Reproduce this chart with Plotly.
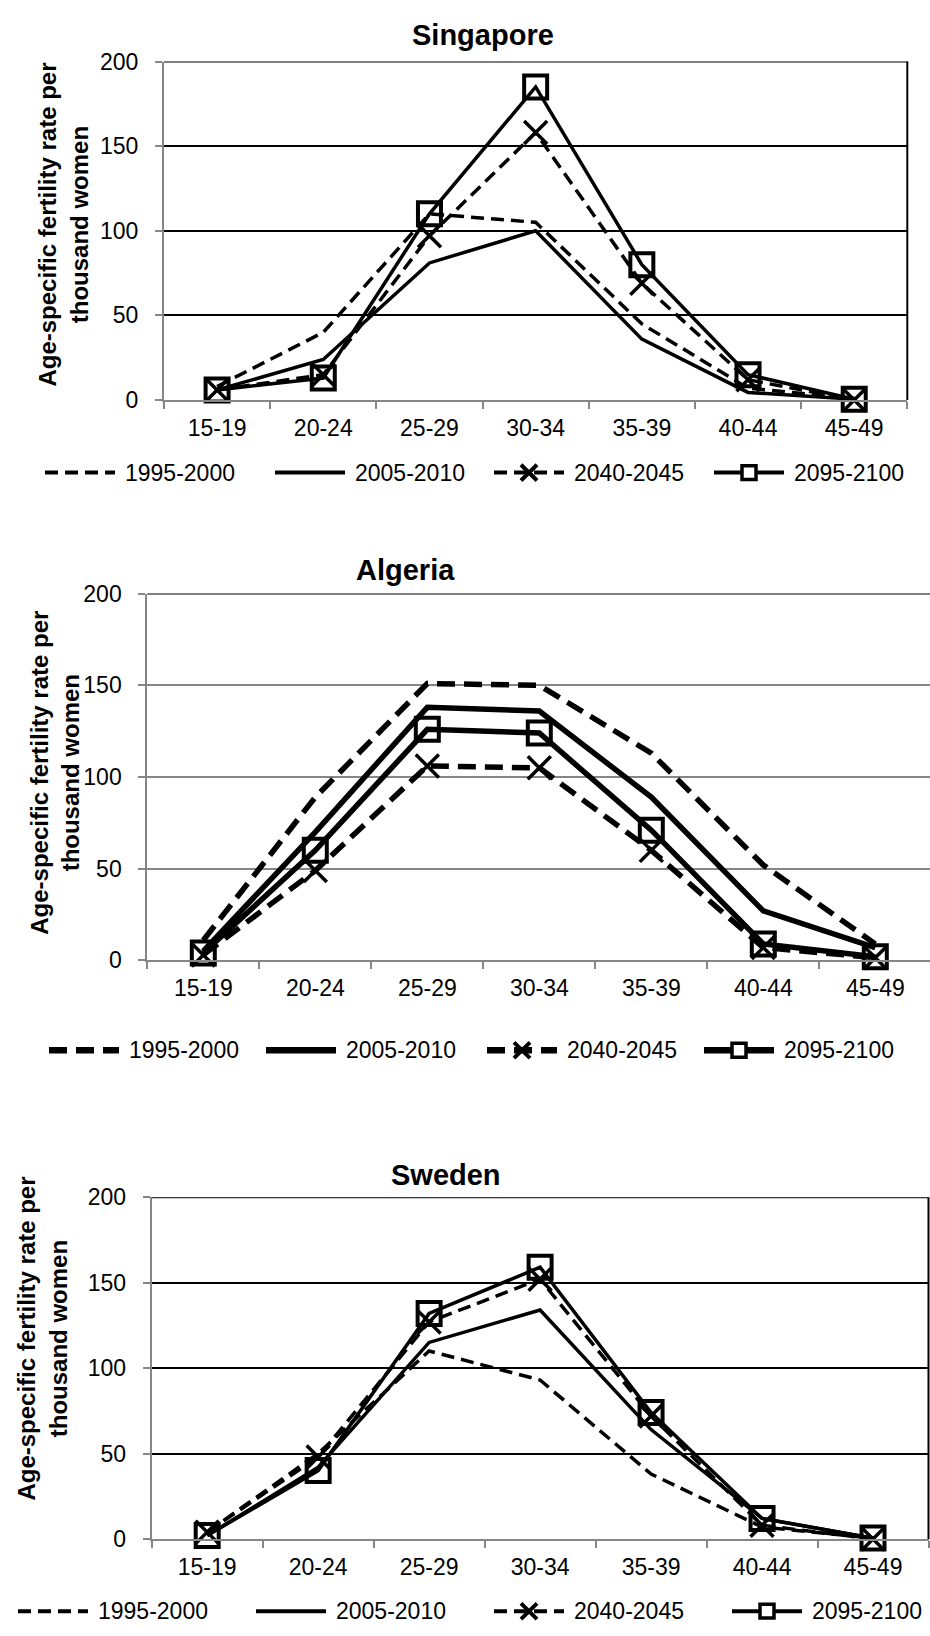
import plotly.graph_objects as go

# ---------------- data ----------------
age_groups = ["15-19", "20-24", "25-29", "30-34", "35-39", "40-44", "45-49"]
series_names = ["1995-2000", "2005-2010", "2040-2045", "2095-2100"]
y_ticks = [0, 50, 100, 150, 200]

singapore_1995_2000 = [8, 40, 110, 105, 45, 7, 1]
singapore_2005_2010 = [6, 24, 81, 100, 36, 4.5, 0.5]
singapore_2040_2045 = [6, 15, 97, 158, 69, 12, 0]
singapore_2095_2100 = [6, 13, 110, 185, 80, 15, 0.5]

algeria_1995_2000 = [11, 89, 151, 150, 113, 52, 9]
algeria_2005_2010 = [5, 70, 138, 136, 89, 27, 7]
algeria_2040_2045 = [3, 49, 106, 105, 60, 7, 1.5]
algeria_2095_2100 = [4, 60, 126, 124, 71, 9, 2]

sweden_1995_2000 = [4, 50, 110, 93, 38, 7, 0.5]
sweden_2005_2010 = [2, 42, 115, 134, 64, 12, 0.5]
sweden_2040_2045 = [4, 48, 127, 152, 72, 8, 0]
sweden_2095_2100 = [2, 40, 132, 159, 74, 12, 0.5]

# ---------------- layout constants ----------------
W, H = 930, 1636
FONT = "Liberation Sans, Arial, sans-serif"
GRAY = "#868686"
Y_TITLE = "Age-specific fertility rate per<br>thousand women"


def px(x):
    return x / W


def py(y):
    return 1 - y / H


panels = [
    dict(title="Singapore",
         data=[singapore_1995_2000, singapore_2005_2010, singapore_2040_2045, singapore_2095_2100],
         x0=164, x1=907.3, ytop=49.3, ybot=393.3,
         title_xy=(483, 22), ytitle_xy=(63, 215),
         legend_y=467, legend_text_x=[123, 353, 572, 792],
         lw=3.5, leg_lw=4, dash="13px,7px", grid="black", right_border=True),
    dict(title="Algeria",
         data=[algeria_1995_2000, algeria_2005_2010, algeria_2040_2045, algeria_2095_2100],
         x0=147.3, x1=931.3, ytop=590, ybot=962.7,
         title_xy=(405, 566), ytitle_xy=(55, 772),
         legend_y=1054, legend_text_x=[127, 344, 565, 782],
         lw=5.5, leg_lw=6.5, dash="18px,9px", grid=GRAY, right_border=False),
    dict(title="Sweden",
         data=[sweden_1995_2000, sweden_2005_2010, sweden_2040_2045, sweden_2095_2100],
         x0=151.7, x1=928.5, ytop=1203.3, ybot=1550.6,
         title_xy=(446, 1181), ytitle_xy=(42, 1347),
         legend_y=1624, legend_text_x=[96, 334, 572, 810],
         lw=3.5, leg_lw=4, dash="13px,7px", grid="black", right_border=True),
]

fig = go.Figure()
shapes = []
annotations = []

for i, p in enumerate(panels, start=1):
    xa = "x" if i == 1 else f"x{i}"
    ya = "y" if i == 1 else f"y{i}"
    dashes = [p["dash"], "solid", p["dash"], "solid"]
    for j, (name, vals) in enumerate(zip(series_names, p["data"])):
        tr = dict(x=age_groups, y=vals, name=name, xaxis=xa, yaxis=ya,
                  line=dict(color="black", width=p["lw"], dash=dashes[j]),
                  mode="lines", showlegend=False, cliponaxis=False)
        if j == 2:
            tr["mode"] = "lines+markers"
            tr["marker"] = dict(symbol="x-thin", size=23, color="black",
                                line=dict(width=3.5, color="black"))
        elif j == 3:
            tr["mode"] = "lines+markers"
            tr["marker"] = dict(symbol="square-open", size=23, color="black",
                                line=dict(width=4, color="black"))
        fig.add_trace(go.Scatter(**tr))

    # axes
    right_px = min(p["x1"], W)
    band = (p["x1"] - p["x0"]) / 7
    xr_end = -0.5 + (right_px - p["x0"]) / band
    axis_common = dict(showline=True, linecolor=GRAY, linewidth=2,
                       ticks="outside", ticklen=7, tickwidth=2, tickcolor=GRAY,
                       tickfont=dict(family=FONT, size=23, color="black"))
    fig.layout[f"xaxis{'' if i == 1 else i}"] = dict(
        domain=[px(p["x0"]), px(right_px)], anchor=ya, type="category",
        range=[-0.5, xr_end], tickson="boundaries", showgrid=False,
        zeroline=False, ticklabelstandoff=6, fixedrange=True, **axis_common)
    fig.layout[f"yaxis{'' if i == 1 else i}"] = dict(
        domain=[py(p["ybot"]), py(p["ytop"])], anchor=xa, range=[0, 200],
        tickmode="array", tickvals=y_ticks, showgrid=True, gridcolor=p["grid"],
        gridwidth=1.8, zeroline=False, ticklabelstandoff=12, fixedrange=True,
        **axis_common)

    # top border (black), right border
    shapes.append(dict(type="line", xref=f"{xa} domain", yref=ya, x0=0, x1=1,
                       y0=200, y1=200, line=dict(color="black", width=2)))
    if p["right_border"]:
        shapes.append(dict(type="line", xref=f"{xa} domain", yref=f"{ya} domain",
                           x0=1, x1=1, y0=0, y1=1, line=dict(color="black", width=2)))

    # titles
    annotations.append(dict(text=f"<b>{p['title']}</b>", x=px(p["title_xy"][0]),
                            y=py(p["title_xy"][1]), xref="paper", yref="paper",
                            xanchor="center", yanchor="middle", showarrow=False,
                            font=dict(family=FONT, size=29, color="black")))
    annotations.append(dict(text=f"<b>{Y_TITLE}</b>", x=px(p["ytitle_xy"][0]),
                            y=py(p["ytitle_xy"][1]), xref="paper", yref="paper",
                            xanchor="center", yanchor="middle", showarrow=False,
                            textangle=-90,
                            font=dict(family=FONT, size=24, color="black")))

    # legend (drawn by hand to match the long line samples)
    ly = py(p["legend_y"])
    for j, (name, tx) in enumerate(zip(series_names, p["legend_text_x"])):
        lx0, lx1 = tx - 78, tx - 8
        shapes.append(dict(type="line", xref="paper", yref="paper",
                           x0=px(lx0), x1=px(lx1), y0=ly, y1=ly,
                           line=dict(color="black", width=p["leg_lw"], dash=dashes[j])))
        cx = (lx0 + lx1) / 2
        cy = p["legend_y"]
        if j == 2:
            s = 8
            for (a, b) in [((cx - s, cy - s), (cx + s, cy + s)), ((cx - s, cy + s), (cx + s, cy - s))]:
                shapes.append(dict(type="line", xref="paper", yref="paper",
                                   x0=px(a[0]), y0=py(a[1]), x1=px(b[0]), y1=py(b[1]),
                                   line=dict(color="black", width=4)))
        elif j == 3:
            s = 7
            shapes.append(dict(type="rect", xref="paper", yref="paper",
                               x0=px(cx - s), x1=px(cx + s), y0=py(cy + s), y1=py(cy - s),
                               fillcolor="white", line=dict(color="black", width=3.5)))
        annotations.append(dict(text=name, x=px(tx), y=ly, xref="paper", yref="paper",
                                xanchor="left", yanchor="middle", showarrow=False,
                                font=dict(family=FONT, size=23, color="black")))

fig.update_layout(width=W, height=H, margin=dict(l=0, r=0, t=0, b=0),
                  paper_bgcolor="white", plot_bgcolor="white",
                  showlegend=False, shapes=shapes, annotations=annotations,
                  font=dict(family=FONT, color="black"))

fig.write_html("out.html")
